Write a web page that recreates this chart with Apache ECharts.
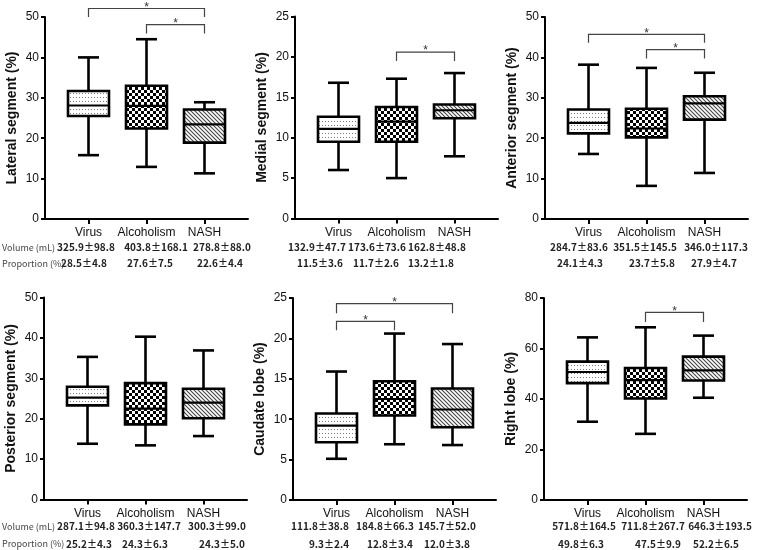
<!DOCTYPE html>
<html><head><meta charset="utf-8">
<script src="https://cdn.jsdelivr.net/npm/echarts@6/dist/echarts.min.js"></script>
<style>html,body{margin:0;background:#fff}#c{width:760px;height:550px}</style>
</head><body><div id="c"></div>
<script>
// ---------- data ----------
const groups = ['Virus', 'Alcoholism', 'NASH'];
const panelTitles = ['Lateral segment (%)', 'Medial segment (%)', 'Anterior segment (%)',
                     'Posterior segment (%)', 'Caudate lobe (%)', 'Right lobe (%)'];
const yMaxes = [50, 25, 50, 50, 25, 80];
const yIntervals = [10, 5, 10, 10, 5, 20];
// box stats per group: [min, Q1, median, Q3, max]
const lateral   = [[15.8, 25.5, 28.1, 31.7, 40.0], [12.9, 22.4, 28.0, 33.0, 44.5], [11.3, 18.9, 23.4, 27.1, 28.9]];
const medial    = [[6.0, 9.5, 11.1, 12.6, 16.8], [5.0, 9.5, 12.0, 13.8, 17.3], [7.7, 12.4, 13.4, 14.1, 18.0]];
const anterior  = [[16.1, 21.2, 23.8, 27.1, 38.2], [8.2, 20.2, 22.4, 27.3, 37.4], [11.4, 24.6, 28.6, 30.4, 36.2]];
const posterior = [[13.8, 23.3, 25.2, 27.9, 35.3], [13.4, 18.6, 22.5, 28.8, 40.3], [15.7, 20.1, 24.0, 27.4, 36.9]];
const caudate   = [[5.1, 7.15, 9.2, 10.7, 15.9], [6.9, 10.45, 12.5, 14.7, 20.6], [6.8, 9.0, 11.2, 13.8, 19.3]];
const rightLobe = [[31.0, 46.3, 50.7, 54.8, 64.4], [26.2, 40.2, 47.5, 52.3, 68.4], [40.5, 47.3, 51.3, 56.8, 65.1]];
// significance brackets: [fromGroup, toGroup, bar level, end level]
const sigLateral   = [[0, 2, 52.1, 50.0], [1, 2, 48.1, 45.9]];
const sigMedial    = [[1, 2, 20.6, 19.5]];
const sigAnterior  = [[0, 2, 45.7, 43.6], [1, 2, 41.9, 39.7]];
const sigPosterior = [];
const sigCaudate   = [[0, 2, 24.3, 23.1], [0, 1, 22.1, 21.0]];
const sigRight     = [[1, 2, 74.3, 70.5]];
// volume (mL) mean / SD and proportion (%) mean / SD
const volMean  = [[325.9, 403.8, 278.8], [132.9, 173.6, 162.8], [284.7, 351.5, 346.0], [287.1, 360.3, 300.3], [111.8, 184.8, 145.7], [571.8, 711.8, 646.3]];
const volSD    = [[98.8, 168.1, 88.0], [47.7, 73.6, 48.8], [83.6, 145.5, 117.3], [94.8, 147.7, 99.0], [38.8, 66.3, 52.0], [164.5, 267.7, 193.5]];
const propMean = [[28.5, 27.6, 22.6], [11.5, 11.7, 13.2], [24.1, 23.7, 27.9], [25.2, 24.3, 24.3], [9.3, 12.8, 12.0], [49.8, 47.5, 52.2]];
const propSD   = [[4.8, 7.5, 4.4], [3.6, 2.6, 1.8], [4.3, 5.8, 4.7], [4.3, 6.3, 5.0], [2.4, 3.4, 3.8], [6.3, 9.9, 6.5]];
const rowLabels = ['Volume (mL)', 'Proportion (%)'];

const boxStats = [lateral, medial, anterior, posterior, caudate, rightLobe];
const sigs = [sigLateral, sigMedial, sigAnterior, sigPosterior, sigCaudate, sigRight];

// ---------- layout ----------
const gridLeft = [45, 295, 545, 44, 293, 544];
const gridTop = [17, 16.5, 17, 297.5, 298, 298];
const gridW = 203, gridH = 202;
const textX = [
  [[86, 156, 222], [84, 150, 220]],
  [[317, 377, 437], [320, 376, 431]],
  [[579, 645, 716], [580, 652, 714]],
  [[86, 149, 217], [89, 145, 222]],
  [[320, 385, 447], [329, 390, 447]],
  [[584, 653, 720], [581, 658, 716]]
];
const textY = [[247.5, 263.5], [526.5, 544]];

// ---------- patterns ----------
function makePattern(kind) {
  const c = document.createElement('canvas');
  const g = c.getContext('2d');
  if (kind === 'dots') {
    c.width = 3; c.height = 4;
    g.fillStyle = '#fff'; g.fillRect(0, 0, 3, 4);
    g.fillStyle = '#7a7a7a'; g.fillRect(1, 1, 1, 1);
  } else if (kind === 'checker') {
    c.width = 6; c.height = 6;
    g.fillStyle = '#fff'; g.fillRect(0, 0, 6, 6);
    g.fillStyle = '#000'; g.fillRect(0, 0, 3, 3); g.fillRect(3, 3, 3, 3);
  } else {
    c.width = 4; c.height = 4;
    g.fillStyle = '#fff'; g.fillRect(0, 0, 4, 4);
    g.strokeStyle = '#444'; g.lineWidth = 1.1;
    g.beginPath();
    g.moveTo(-1, -1); g.lineTo(5, 5);
    g.moveTo(-1, 3); g.lineTo(1, 5);
    g.moveTo(3, -1); g.lineTo(5, 1);
    g.stroke();
  }
  return { image: c, repeat: 'repeat' };
}
const patterns = [makePattern('dots'), makePattern('checker'), makePattern('hatch')];

const grids = [], xAxes = [], yAxes = [], series = [], graphics = [];
const fontMain = 'Liberation Sans, Arial, sans-serif';
const fontTable = '"Noto Sans CJK JP", "Noto Sans", sans-serif';

for (let p = 0; p < 6; p++) {
  grids.push({ left: gridLeft[p], top: gridTop[p], width: gridW, height: gridH, containLabel: false });
  xAxes.push({
    type: 'value', gridIndex: p, min: -0.75, max: 2.75,
    axisLine: { show: true, onZero: false, lineStyle: { color: '#000', width: 2 } },
    axisTick: { show: true, customValues: [0, 1, 2], length: 5, lineStyle: { color: '#000', width: 2 } },
    axisLabel: { show: true, customValues: [0, 1, 2], formatter: v => groups[Math.round(v)] || '',
                 color: '#111', fontSize: 12, fontFamily: fontMain, margin: 8 },
    splitLine: { show: false }
  });
  yAxes.push({
    type: 'value', gridIndex: p, min: 0, max: yMaxes[p], interval: yIntervals[p],
    name: panelTitles[p], nameLocation: 'middle', nameGap: 26,
    nameTextStyle: { fontSize: 14, fontWeight: 'bold', color: '#111', fontFamily: fontMain },
    axisLine: { show: true, onZero: false, lineStyle: { color: '#000', width: 2 } },
    axisTick: { show: true, length: 4, lineStyle: { color: '#000', width: 2 } },
    axisLabel: { color: '#111', fontSize: 12, fontFamily: fontMain, margin: 6 },
    splitLine: { show: false }
  });
  series.push({
    type: 'custom', xAxisIndex: p, yAxisIndex: p,
    data: boxStats[p].map((s, i) => [i, ...s]),
    encode: { x: 0, y: [1, 2, 3, 4, 5] },
    renderItem: function (params, api) {
      const i = api.value(0);
      const x = api.coord([i, 0])[0];
      const yv = k => api.coord([i, api.value(k)])[1];
      const yMin = yv(1), yQ1 = yv(2), yMed = yv(3), yQ3 = yv(4), yMax = yv(5);
      const hw = 20.5, cw = 10.5;
      const ls = { stroke: '#000', lineWidth: 2.6 };
      return {
        type: 'group', children: [
          { type: 'line', shape: { x1: x, y1: yQ3, x2: x, y2: yMax }, style: ls },
          { type: 'line', shape: { x1: x - cw, y1: yMax, x2: x + cw, y2: yMax }, style: ls },
          { type: 'line', shape: { x1: x, y1: yQ1, x2: x, y2: yMin }, style: ls },
          { type: 'line', shape: { x1: x - cw, y1: yMin, x2: x + cw, y2: yMin }, style: ls },
          { type: 'rect', shape: { x: x - hw, y: yQ3, width: 2 * hw, height: yQ1 - yQ3 },
            style: { fill: patterns[i], stroke: '#000', lineWidth: 2.6 } },
          { type: 'line', shape: { x1: x - hw, y1: yMed, x2: x + hw, y2: yMed }, style: { stroke: '#000', lineWidth: 2.2 } }
        ]
      };
    },
    silent: true
  });
  if (sigs[p].length) {
    series.push({
      type: 'custom', xAxisIndex: p, yAxisIndex: p, clip: false,
      data: sigs[p],
      encode: { x: [0, 1], y: [2, 3] },
      renderItem: function (params, api) {
        const x1 = api.coord([api.value(0), 0])[0];
        const x2 = api.coord([api.value(1), 0])[0];
        const yb = api.coord([0, api.value(2)])[1];
        const ye = api.coord([0, api.value(3)])[1];
        return {
          type: 'group', children: [
            { type: 'polyline', shape: { points: [[x1, ye], [x1, yb], [x2, yb], [x2, ye]] },
              style: { stroke: '#444', lineWidth: 1.2, fill: null } },
            { type: 'text', x: (x1 + x2) / 2, y: yb - 1,
              style: { text: '*', fontSize: 12, fill: '#333', align: 'center', verticalAlign: 'middle', fontFamily: fontMain } }
          ]
        };
      },
      silent: true
    });
  }
  // table rows below
  const row = p < 3 ? 0 : 1;
  for (let r = 0; r < 2; r++) {
    const means = r === 0 ? volMean[p] : propMean[p];
    const sds = r === 0 ? volSD[p] : propSD[p];
    for (let i = 0; i < 3; i++) {
      graphics.push({
        type: 'text', x: textX[p][r][i], y: textY[row][r],
        style: { text: means[i].toFixed(1) + '±' + sds[i].toFixed(1), fontSize: 10, fontWeight: 'bold',
                 fill: '#222', align: 'center', verticalAlign: 'middle', fontFamily: fontTable }
      });
    }
    if (p % 3 === 0) {
      graphics.push({
        type: 'text', x: 2, y: textY[row][r],
        style: { text: rowLabels[r], fontSize: 9, fill: '#444', align: 'left', verticalAlign: 'middle', fontFamily: fontTable }
      });
    }
  }
}

const chart = echarts.init(document.getElementById('c'), null, { renderer: 'canvas' });
chart.setOption({
  backgroundColor: '#fff',
  animation: false,
  grid: grids, xAxis: xAxes, yAxis: yAxes, series: series, graphic: graphics
});
</script></body></html>
